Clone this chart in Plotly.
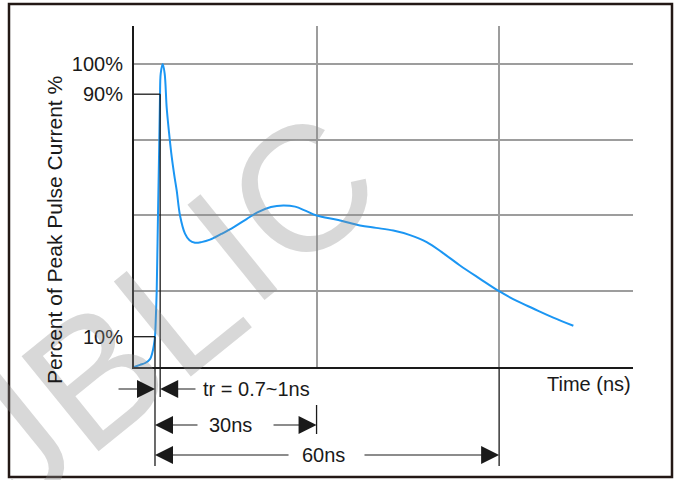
import plotly.graph_objects as go

# ---- data ----
time_ns = [0.0, 0.99, 1.91, 2.63, 3.0, 3.25, 3.45, 3.6, 3.73, 3.94, 4.16, 4.27, 4.39, 4.72,
           5.04, 5.37, 5.75, 6.20, 6.64, 7.02, 7.56, 8.38, 9.12, 10.02, 11.08, 12.49, 14.35,
           16.27, 18.5, 20.28, 22.5, 24.54, 26.48, 28.25, 30.0, 33.57, 37.14, 39.77,
           42.61, 45.36, 48.1, 50.85, 53.57, 56.86, 60.0, 62.9, 65.6, 68.9, 72.2]
current_pct = [0.0, 0.7, 1.4, 2.6, 4.6, 7.0, 10.0, 17.0, 25.0, 50.0, 75.0, 89.0, 96.8, 100.0,
               96.8, 85.6, 77.5, 69.3, 63.0, 58.2, 50.0, 44.0, 41.8, 41.0, 41.2, 42.0, 43.9,
               46.0, 48.8, 51.0, 52.8, 53.3, 52.9, 51.5, 50.0, 48.5, 46.7, 45.9,
               45.0, 43.5, 41.2, 37.5, 33.5, 29.1, 25.0, 21.8, 19.3, 16.3, 13.6]

y_tick_vals = [10, 90, 100]
y_tick_text = ["10%", "90%", "100%"]
y_grid_vals = [25, 50, 75, 100]
x_grid_vals = [30, 60]

t10 = 3.45     # time at 10 %
t90 = 4.30     # time at 90 %
level10 = 10
level90 = 90
period30 = 30
period60 = 60

x_range = [0, 82.0]
y_range = [0, 112.5]

FONT = "Liberation Sans, Arial, sans-serif"
INK = "#1a1a1a"
BLUE = "#1b96f3"
GRID = "#9d9d9d"

W, H = 675, 480
ml, mr, mt, mb = 134, 42, 26, 113
plot_h = H - mt - mb
plot_w = W - ml - mr


def py(pix):
    """pixel row -> paper y"""
    return (H - mb - pix) / plot_h


def px(pix):
    return (pix - ml) / plot_w


def ypaper(val):
    return (val - y_range[0]) / (y_range[1] - y_range[0])


fig = go.Figure()
fig.add_trace(go.Scatter(x=time_ns, y=current_pct, mode="lines",
                         line=dict(color=BLUE, width=2, shape="spline", smoothing=1.0),
                         hoverinfo="skip", showlegend=False))

shapes = []
line_k = dict(color=INK, width=1.3)
# 90% and 10% level markers
shapes.append(dict(type="line", xref="x", yref="y", x0=x_range[0], x1=t90, y0=level90, y1=level90, line=line_k))
shapes.append(dict(type="line", xref="x", yref="y", x0=x_range[0], x1=t10, y0=level10, y1=level10, line=line_k))
# vertical extension lines
shapes.append(dict(type="line", xref="x", yref="paper", x0=t10, x1=t10, y0=ypaper(level10), y1=py(466), line=line_k))
shapes.append(dict(type="line", xref="x", yref="paper", x0=t90, x1=t90, y0=ypaper(level90), y1=py(397), line=line_k))
shapes.append(dict(type="line", xref="x", yref="paper", x0=period30, x1=period30, y0=py(405), y1=py(434), line=line_k))
shapes.append(dict(type="line", xref="x", yref="paper", x0=period60, x1=period60, y0=0, y1=py(466), line=line_k))
# frame
shapes.append(dict(type="rect", xref="paper", yref="paper", x0=px(9), x1=px(672), y0=py(477), y1=py(4),
                   line=dict(color="#231815", width=2.5)))

annotations = []
# watermark (drawn first)
WM = "rgba(140,140,140,0.34)"
annotations.append(dict(x=px(98), y=py(372), xref="paper", yref="paper", text="JBL",
                        textangle=-39, showarrow=False, xanchor="center", yanchor="middle",
                        font=dict(family=FONT, size=178, color=WM)))
annotations.append(dict(x=px(282), y=py(206), xref="paper", yref="paper", text="IC",
                        textangle=-39, showarrow=False, xanchor="center", yanchor="middle",
                        font=dict(family=FONT, size=178, color=WM)))


def arrow(head, tail, row):
    annotations.append(dict(x=head, y=py(row), xref="x", yref="paper", ax=tail, ay=0,
                            axref="x", ayref="pixel", showarrow=True, text="",
                            arrowhead=2, arrowsize=3, arrowwidth=1.2, arrowcolor=INK))


def label(t, row, text, anchor):
    annotations.append(dict(x=t, y=py(row), xref="x", yref="paper", text=text, showarrow=False,
                            xanchor=anchor, yanchor="middle", font=dict(family=FONT, size=20, color=INK)))


# tr
arrow(t10, -2.79, 389)
arrow(t90, 10.35, 389)
label(11.0, 389, "tr = 0.7~1ns", "left")
# 30 ns
arrow(t10, 10.68, 425)
arrow(period30, 22.68, 425)
label(15.86, 425, "30ns", "center")
# 60 ns
arrow(t10, 25.64, 455)
arrow(period60, 37.63, 455)
label(31.06, 455, "60ns", "center")

# axis labels
annotations.append(dict(x=1, y=0, xref="paper", yref="paper", yshift=-17, text="Time (ns)",
                        showarrow=False, xanchor="right", yanchor="middle",
                        font=dict(family=FONT, size=20, color=INK)))
annotations.append(dict(x=0, y=py(230), xref="paper", yref="paper", xshift=54 - ml,
                        text="Percent of Peak Pulse Current %", textangle=-90, showarrow=False,
                        xanchor="center", yanchor="middle", font=dict(family=FONT, size=21, color=INK)))

fig.update_layout(
    width=W, height=H,
    margin=dict(l=ml, r=mr, t=mt, b=mb),
    paper_bgcolor="white", plot_bgcolor="white",
    shapes=shapes, annotations=annotations,
    showlegend=False,
    xaxis=dict(range=x_range, showline=True, linecolor=INK, linewidth=2,
               tickmode="array", tickvals=x_grid_vals, showticklabels=False, ticks="",
               showgrid=True, gridcolor=GRID, gridwidth=1.6, zeroline=False, fixedrange=True),
    yaxis=dict(range=y_range, showline=True, linecolor=INK, linewidth=2,
               tickmode="array", tickvals=y_tick_vals, ticktext=y_tick_text, ticks="",
               ticklabelstandoff=5,
               tickfont=dict(family=FONT, size=20, color=INK),
               showgrid=False, zeroline=False, fixedrange=True,
               minor=dict(tickmode="array", tickvals=y_grid_vals, showgrid=True,
                          gridcolor=GRID, gridwidth=1.6, ticks="")),
)

fig.write_html("out.html", config={"displayModeBar": False},
               post_script="document.body.style.margin='0px';document.body.style.overflow='hidden';")
